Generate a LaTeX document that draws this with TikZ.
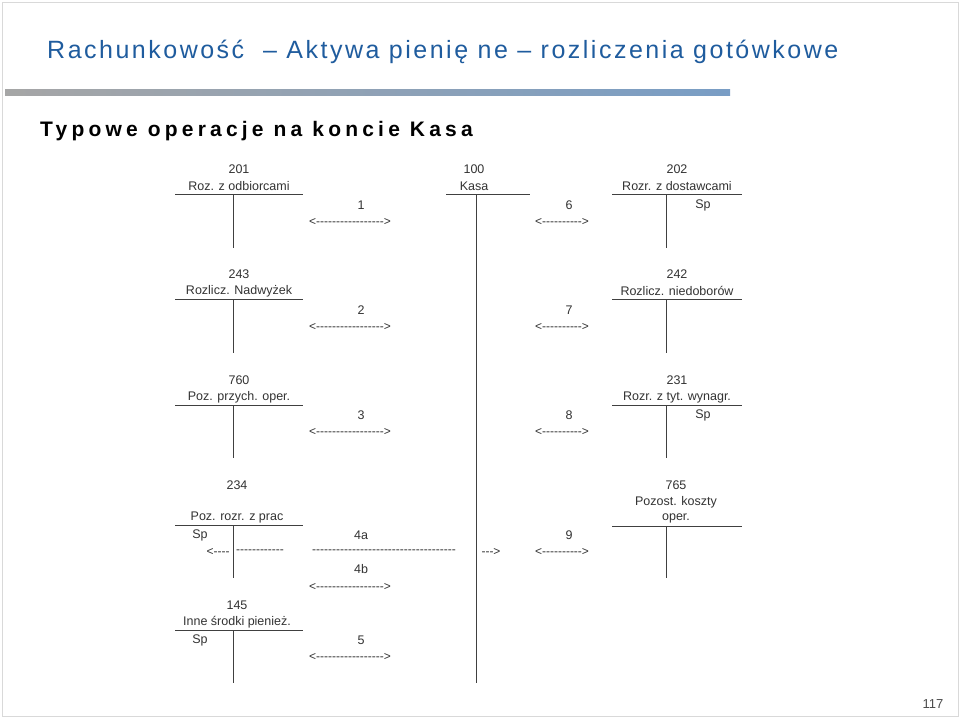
\documentclass[tikz,border=0pt]{standalone}
\usepackage{fontspec}
\setmainfont{Liberation Sans}
\definecolor{ttl}{HTML}{1F5C9E}
\begin{document}
\begin{tikzpicture}[x=1pt,y=-1pt,
  t/.style={font=\fontsize{12.5}{13}\selectfont, text=black!80, inner sep=0pt},
  dd/.style={t, font=\fontsize{12}{13}\selectfont},
  ln/.style={draw=black!75, line width=0.9pt}]
\useasboundingbox (0,0) rectangle (960,718);
\fill[white] (0,0) rectangle (960,718);
\draw[black!15] (2,2) rectangle (958,716);
\node[anchor=west, text=ttl, font=\fontsize{25}{28}\selectfont, inner sep=0pt] (title) at (47,52) {\addfontfeature{LetterSpace=10}Rachunkowość\ \ –\ Aktywa pienię ne – rozliczenia gotówkowe};
\shade[left color=black!35, right color=ttl!60] (5,89) rectangle (730,95);
\node[anchor=west, font=\bfseries\fontsize{21}{24}\selectfont, inner sep=0pt] (sub) at (40,131) {\addfontfeature{LetterSpace=20}Typowe operacje na koncie Kasa};
\node[t, font=\fontsize{13}{14}\selectfont, text=black!70] (pg) at (933,704) {117};
% T-accounts
\foreach \n/\num/\lab/\xl/\xr/\xv/\y/\yb in {
 a/201/Roz. z odbiorcami/175/303/233/194/248,
 c/202/Rozr. z dostawcami/612/742/666/194/248,
 d/243/Rozlicz. Nadwyżek/175/303/233/299/353,
 e/242/Rozlicz. niedoborów/612/742/666/299/353,
 f/760/Poz. przych. oper./175/303/233/405/458,
 g/231/Rozr. z tyt. wynagr./612/742/666/405/458}{
 \node[t] (\n num) at ({(\xl+\xr)/2},{\y-25}) {\num};
 \node[t] (\n lab) at ({(\xl+\xr)/2},{\y-8}) {\lab};
 \coordinate (\n l) at (\xl,\y); \coordinate (\n r) at (\xr,\y);
 \coordinate (\n t) at (\xv,\y); \coordinate (\n b) at (\xv,\yb);
 \draw[ln] (\n l) -- (\n r); \draw[ln] (\n t) -- (\n b);
}
\node[t] (knum) at (474,169) {100};
\node[t] (klab) at (474,186) {Kasa};
\coordinate (kl) at (446,194); \coordinate (kr) at (530,194);
\coordinate (kt) at (476,194); \coordinate (kb) at (476,683);
\draw[ln] (kl) -- (kr); \draw[ln] (kt) -- (kb);
% 234
\node[t] (hnum) at (237,485) {234};
\node[t] (hlab) at (237,517) {Poz. rozr. z prac};
\coordinate (hl) at (175,525); \coordinate (hr) at (303,525);
\coordinate (ht) at (233,525); \coordinate (hb) at (233,578);
\draw[ln] (hl) -- (hr); \draw[ln] (ht) -- (hb);
% 765
\node[t] (inum) at (676,485) {765};
\node[t] (ilab) at (676,502) {Pozost. koszty};
\node[t] (ilab2) at (676,518) {oper.};
\coordinate (il) at (612,526); \coordinate (ir) at (742,526);
\coordinate (it) at (666,526); \coordinate (ib) at (666,578);
\draw[ln] (il) -- (ir); \draw[ln] (it) -- (ib);
% 145
\node[t] (jnum) at (237,605) {145};
\node[t] (jlab) at (237,622) {Inne środki pienież.};
\coordinate (jl) at (175,630); \coordinate (jr) at (303,630);
\coordinate (jt) at (233,630); \coordinate (jb) at (233,683);
\draw[ln] (jl) -- (jr); \draw[ln] (jt) -- (jb);
% Sp labels
\node[t] (sp1) at (703,205) {Sp};
\node[t] (sp2) at (703,415) {Sp};
\node[t] (sp3) at (200,535) {Sp};
\node[t] (sp4) at (200,640) {Sp};
% operation numbers and arrows
\def\la{<{-}{-}{-}{-}{-}{-}{-}{-}{-}{-}{-}{-}{-}{-}{-}{-}{-}>}
\def\ra{<{-}{-}{-}{-}{-}{-}{-}{-}{-}{-}>}
\foreach \n/\lbl/\y in {o1/1/205, o2/2/310, o3/3/415, o5/5/640}{
 \node[t] (\n) at (361,\y) {\lbl};
 \node[dd] (\n a) at (350,\y+17) {\la};
}
\foreach \n/\lbl/\y in {o6/6/205, o7/7/310, o8/8/415, o9/9/535}{
 \node[t] (\n) at (569,\y) {\lbl};
 \node[dd] (\n a) at (562,\y+17) {\ra};
}
\node[t] (o4a) at (361,535) {4a};
\node[t] (o4b) at (361,569) {4b};
\node[dd] (o4ba) at (350,587) {\la};
\node[dd] (d1) at (218,552) {<{-}{-}{-}{-}};
\node[dd] (d2) at (260,552) {{-}{-}{-}{-}{-}{-}{-}{-}{-}{-}{-}{-}};
\node[dd] (d3) at (384,552) {{-}{-}{-}{-}{-}{-}{-}{-}{-}{-}{-}{-}{-}{-}{-}{-}{-}{-}{-}{-}{-}{-}{-}{-}{-}{-}{-}{-}{-}{-}{-}{-}{-}{-}{-}{-}};
\node[dd] (d4) at (491,552) {{-}{-}{-}>};
\end{tikzpicture}
\end{document}
